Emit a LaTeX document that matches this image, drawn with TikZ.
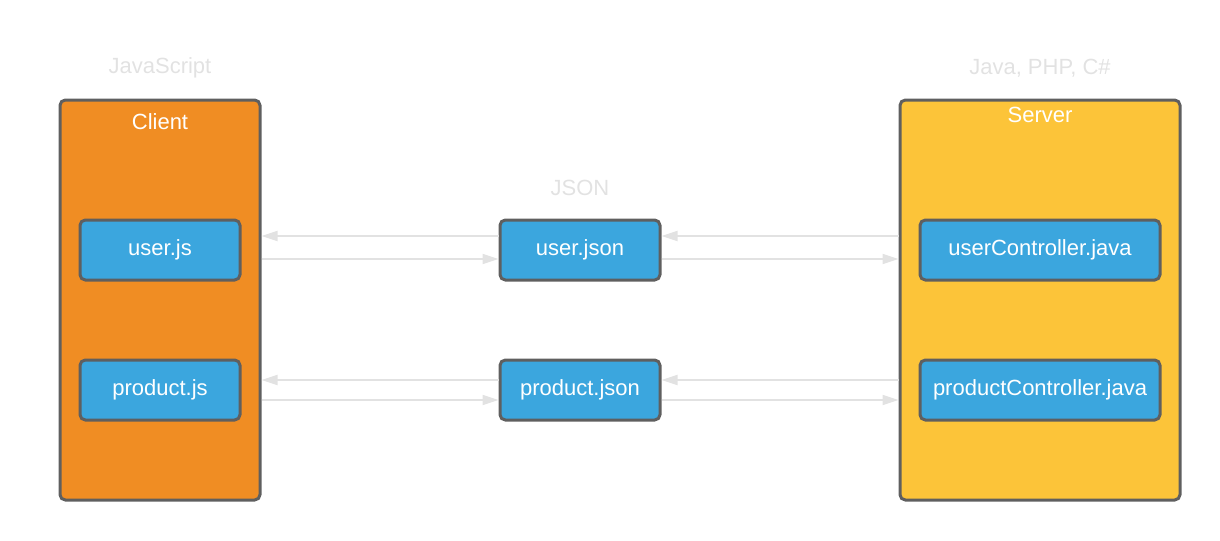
\documentclass[tikz,border=0pt]{standalone}
\usepackage{fontspec}
\setmainfont{Liberation Sans}
\usetikzlibrary{arrows.meta}
\definecolor{clientorange}{RGB}{240,141,35}
\definecolor{serveryellow}{RGB}{252,196,57}
\definecolor{fileblue}{RGB}{59,166,222}
\definecolor{edgegray}{RGB}{95,95,95}
\definecolor{softgray}{RGB}{226,226,226}

\begin{document}
\begin{tikzpicture}[x=0.75pt,y=-0.75pt,
  every node/.style={font=\fontsize{16.5}{19}\selectfont},
  tier/.style={draw=edgegray,line width=2.25pt,rounded corners=4pt,minimum height=300pt},
  file/.style={draw=edgegray,line width=2.25pt,rounded corners=4pt,fill=fileblue,text=white,minimum height=45pt,minimum width=120pt},
  caption/.style={text=softgray},
  flow/.style={draw=softgray,line width=1.5pt,-{Triangle[length=12pt,width=7.5pt]}}]
\useasboundingbox (0,0) rectangle (1220,540);
    \node[tier,fill=clientorange,minimum width=150pt] (client) at (160,300) {};
    \node[tier,fill=serveryellow,minimum width=210pt] (server) at (1040,300) {};
    \node[text=white] (clienttitle) at (160,122) {Client};
    \node[text=white] (servertitle) at (1040,115) {Server};
    \node[caption] (jslabel) at (160,68) {JavaScript};
    \node[caption] (jsonlabel) at (580,188) {JSON};
    \node[caption] (serverlabel) at (1040,68) {Java, PHP, C\#};
    \node[file] (userjs) at (160,250) {user.js};
    \node[file] (productjs) at (160,390) {product.js};
    \node[file] (userjson) at (580,250) {user.json};
    \node[file] (productjson) at (580,390) {product.json};
    \node[file,minimum width=180pt] (userctl) at (1040,250) {userController.java};
    \node[file,minimum width=180pt] (productctl) at (1040,390) {productController.java};
    % user row
    \draw[flow] ([yshift=10.5pt]userjson.west) -- ([yshift=10.5pt]userjson.west -| client.east);
    \draw[flow] ([yshift=-6.75pt]userjson.west -| client.east) -- ([yshift=-6.75pt]userjson.west);
    \draw[flow] ([yshift=10.5pt]userjson.east -| server.west) -- ([yshift=10.5pt]userjson.east);
    \draw[flow] ([yshift=-6.75pt]userjson.east) -- ([yshift=-6.75pt]userjson.east -| server.west);
    % product row
    \draw[flow] ([yshift=7.5pt]productjson.west) -- ([yshift=7.5pt]productjson.west -| client.east);
    \draw[flow] ([yshift=-7.5pt]productjson.west -| client.east) -- ([yshift=-7.5pt]productjson.west);
    \draw[flow] ([yshift=7.5pt]productjson.east -| server.west) -- ([yshift=7.5pt]productjson.east);
    \draw[flow] ([yshift=-7.5pt]productjson.east) -- ([yshift=-7.5pt]productjson.east -| server.west);
\end{tikzpicture}
\end{document}
